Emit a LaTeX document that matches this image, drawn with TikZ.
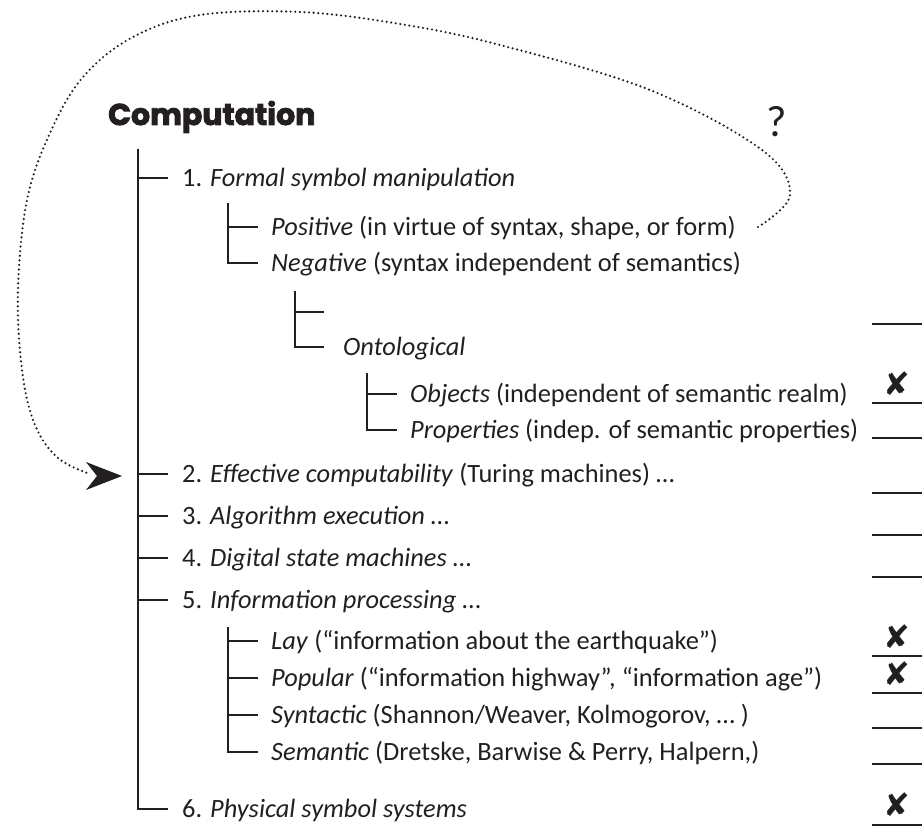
\documentclass[tikz,border=0pt]{standalone}
\usepackage{fontspec}
\setmainfont{Carlito}
\newfontfamily\titlefont{Poppins}[BoldFeatures={FakeBold=3}]
\newfontfamily\symfont{DejaVu Sans}
\usetikzlibrary{arrows.meta,calc}
\definecolor{ink}{HTML}{231F20}
\begin{document}
\begin{tikzpicture}[x=1pt,y=-1pt,
  treeline/.style={line width=1.8pt, draw=ink},
  blank/.style={line width=2.4pt, draw=ink},
  txt/.style={anchor=base west, inner sep=0pt, text=ink, font=\fontsize{26.4}{30}\selectfont},
  crossmark/.style={inner sep=0pt, text=ink, font=\symfont\fontsize{32}{36}\selectfont},
  dotline/.style={draw=ink, line width=2.4pt, line cap=round, dash pattern=on 0pt off 4.6pt}]
\useasboundingbox (0,0) rectangle (922,829);

% title
\node[anchor=base west, inner sep=0pt, text=ink, font=\titlefont\bfseries\fontsize{30}{36}\selectfont] (title) at (108,125) {Computation};

% texts
\node[txt] (n1)   at (182,186.5) {1. \textit{Formal symbol manipulation}};
\node[txt] (pos)  at (271,235.5) {\textit{Positive} (in virtue of syntax, shape, or form)};
\node[txt] (neg)  at (271,271.5) {\textit{Negative} (syntax independent of semantics)};
\node[txt] (onto) at (343,355.5) {\textit{Ontological}};
\node[txt] (obj)  at (410,402.5) {\textit{Objects} (independent of semantic realm)};
\node[txt] (prop) at (410,438.5) {\textit{Properties} (indep. of semantic properties)};
\node[txt] (n2)   at (182,482.5) {2. \textit{Effective computability} (Turing machines) \ldots};
\node[txt] (n3)   at (182,524.5) {3. \textit{Algorithm execution} \ldots};
\node[txt] (n4)   at (182,566.5) {4. \textit{Digital state machines} \ldots};
\node[txt] (n5)   at (182,608.5) {5. \textit{Information processing} \ldots};
\node[txt] (lay)  at (271,649.5) {\textit{Lay} (“information about the earthquake”)};
\node[txt] (pop)  at (271,686.5) {\textit{Popular} (“information highway”, “information age”)};
\node[txt] (syn)  at (271,723.5) {\textit{Syntactic} (Shannon/Weaver, Kolmogorov, \ldots\ )};
\node[txt] (sem)  at (271,760.5) {\textit{Semantic} (Dretske, Barwise \& Perry, Halpern,)};
\node[txt] (n6)   at (182,817.5) {6. \textit{Physical symbol systems}};

% tree tops
\coordinate (t0) at (138,149);
\coordinate (t1) at (228,203);
\coordinate (t2) at (295,291);
\coordinate (t3) at (367,373);
\coordinate (t4) at (228,627);
\coordinate (e0) at (324,312);

% branches
\foreach \n in {n1,n2,n3,n4,n5,n6}
  \draw[treeline] (t0) |- ($(\n.base west)+(-14,-8.5)$);
\foreach \n in {pos,neg}
  \draw[treeline] (t1) |- ($(\n.base west)+(-13,-8.5)$);
\draw[treeline] (t2) |- (e0);
\draw[treeline] (t2) |- ($(onto.base west)+(-19,-8.5)$);
\foreach \n in {obj,prop}
  \draw[treeline] (t3) |- ($(\n.base west)+(-13,-8.5)$);
\foreach \n in {lay,pop,syn,sem}
  \draw[treeline] (t4) |- ($(\n.base west)+(-13,-8.5)$);

% answer blanks
\foreach \y [count=\i] in {324,403,438,493,535,577,656,693,728,764,825}{
  \coordinate (bl\i) at (872,\y);
  \coordinate (br\i) at (922,\y);
  \draw[blank] (bl\i) -- (br\i);
}
% crosses
\node[crossmark] (x1) at (897,384) {✘};
\node[crossmark] (x2) at (897,637) {✘};
\node[crossmark] (x3) at (897,674) {✘};
\node[crossmark] (x4) at (897,805) {✘};

% question mark
\node[inner sep=0pt, text=ink, font=\fontsize{44}{48}\selectfont] (q) at (777,122) {?};

% dotted loop
\coordinate (qs) at (758,227);
\coordinate (ae) at (122,476);
\draw[dotline] plot[smooth, tension=0.6] coordinates {(qs) (790,195) (762,150) (650,90) (500,45) (400,24) (300,12) (200,15) (133,37) (83,77) (50,133) (27,200) (18,290) (22,370) (35,425) (58,458) (90,474)};
\fill[ink] (ae) -- (86,462) -- (97,476) -- (86,490) -- cycle;
\end{tikzpicture}
\end{document}
